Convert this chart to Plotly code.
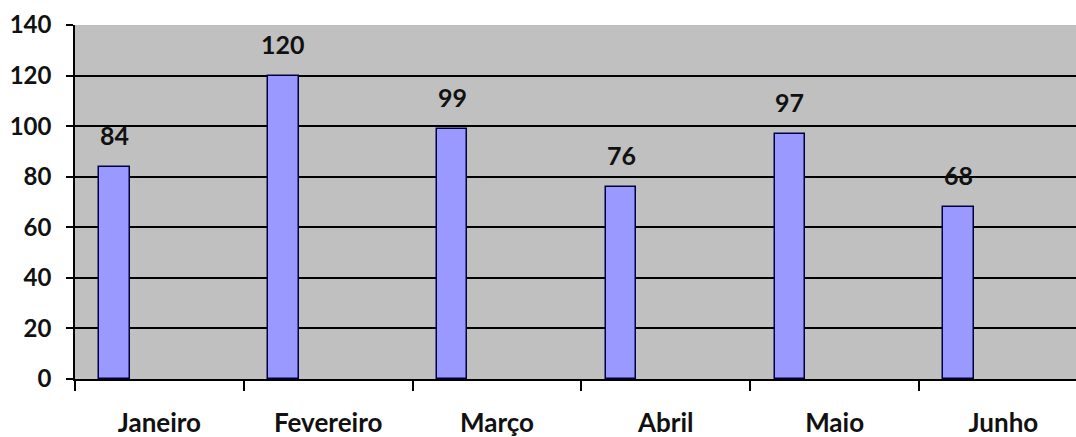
import plotly.graph_objects as go

months = ["Janeiro", "Fevereiro", "Março", "Abril", "Maio", "Junho"]
values = [84, 120, 99, 76, 97, 68]
y_ticks = [0, 20, 40, 60, 80, 100, 120, 140]

BAR_OFFSET = -0.355
BAR_WIDTH = 0.18
SLOT_PX = 168.8

fig = go.Figure()
fig.add_trace(go.Bar(
    x=months, y=values,
    offset=BAR_OFFSET, width=BAR_WIDTH,
    marker=dict(color="#9999FF", line=dict(color="#000040", width=1.5)),
    hoverinfo="x+y",
))

for m, v in zip(months, values):
    fig.add_annotation(
        x=m, y=v, text=str(v), showarrow=False,
        xshift=(BAR_OFFSET + BAR_WIDTH / 2) * SLOT_PX,
        yshift=32, yanchor="middle",
        font=dict(family="Lato", size=25, color="#111111", weight="bold"),
    )

fig.update_layout(
    width=1076, height=437, autosize=False,
    margin=dict(l=75, r=0, t=25, b=58, autoexpand=False),
    paper_bgcolor="white", plot_bgcolor="#C0C0C0",
    showlegend=False,
    font=dict(family="Lato", color="#111111"),
    bargap=0,
)
fig.update_xaxes(
    type="category", range=[-0.5, 5.43],
    tickson="boundaries", ticks="outside", ticklen=10, tickwidth=1.5, tickcolor="black",
    showline=True, linecolor="black", linewidth=1.5,
    showgrid=False, ticklabelstandoff=20,
    tickfont=dict(family="Lato", size=26, color="#111111", weight="bold"),
)
fig.update_yaxes(
    range=[0, 140], tickvals=y_ticks,
    ticks="outside", ticklen=7, tickwidth=1.5, tickcolor="black",
    showline=True, linecolor="black", linewidth=1.5,
    showgrid=True, gridcolor="black", gridwidth=1.5,
    zeroline=False, ticklabelstandoff=10,
    tickfont=dict(family="Lato", size=24, color="#111111", weight="bold"),
)

fig.write_html(
    "out.html",
    config={"displayModeBar": False},
    post_script="document.body.style.margin='0';document.body.style.overflow='hidden';",
)
